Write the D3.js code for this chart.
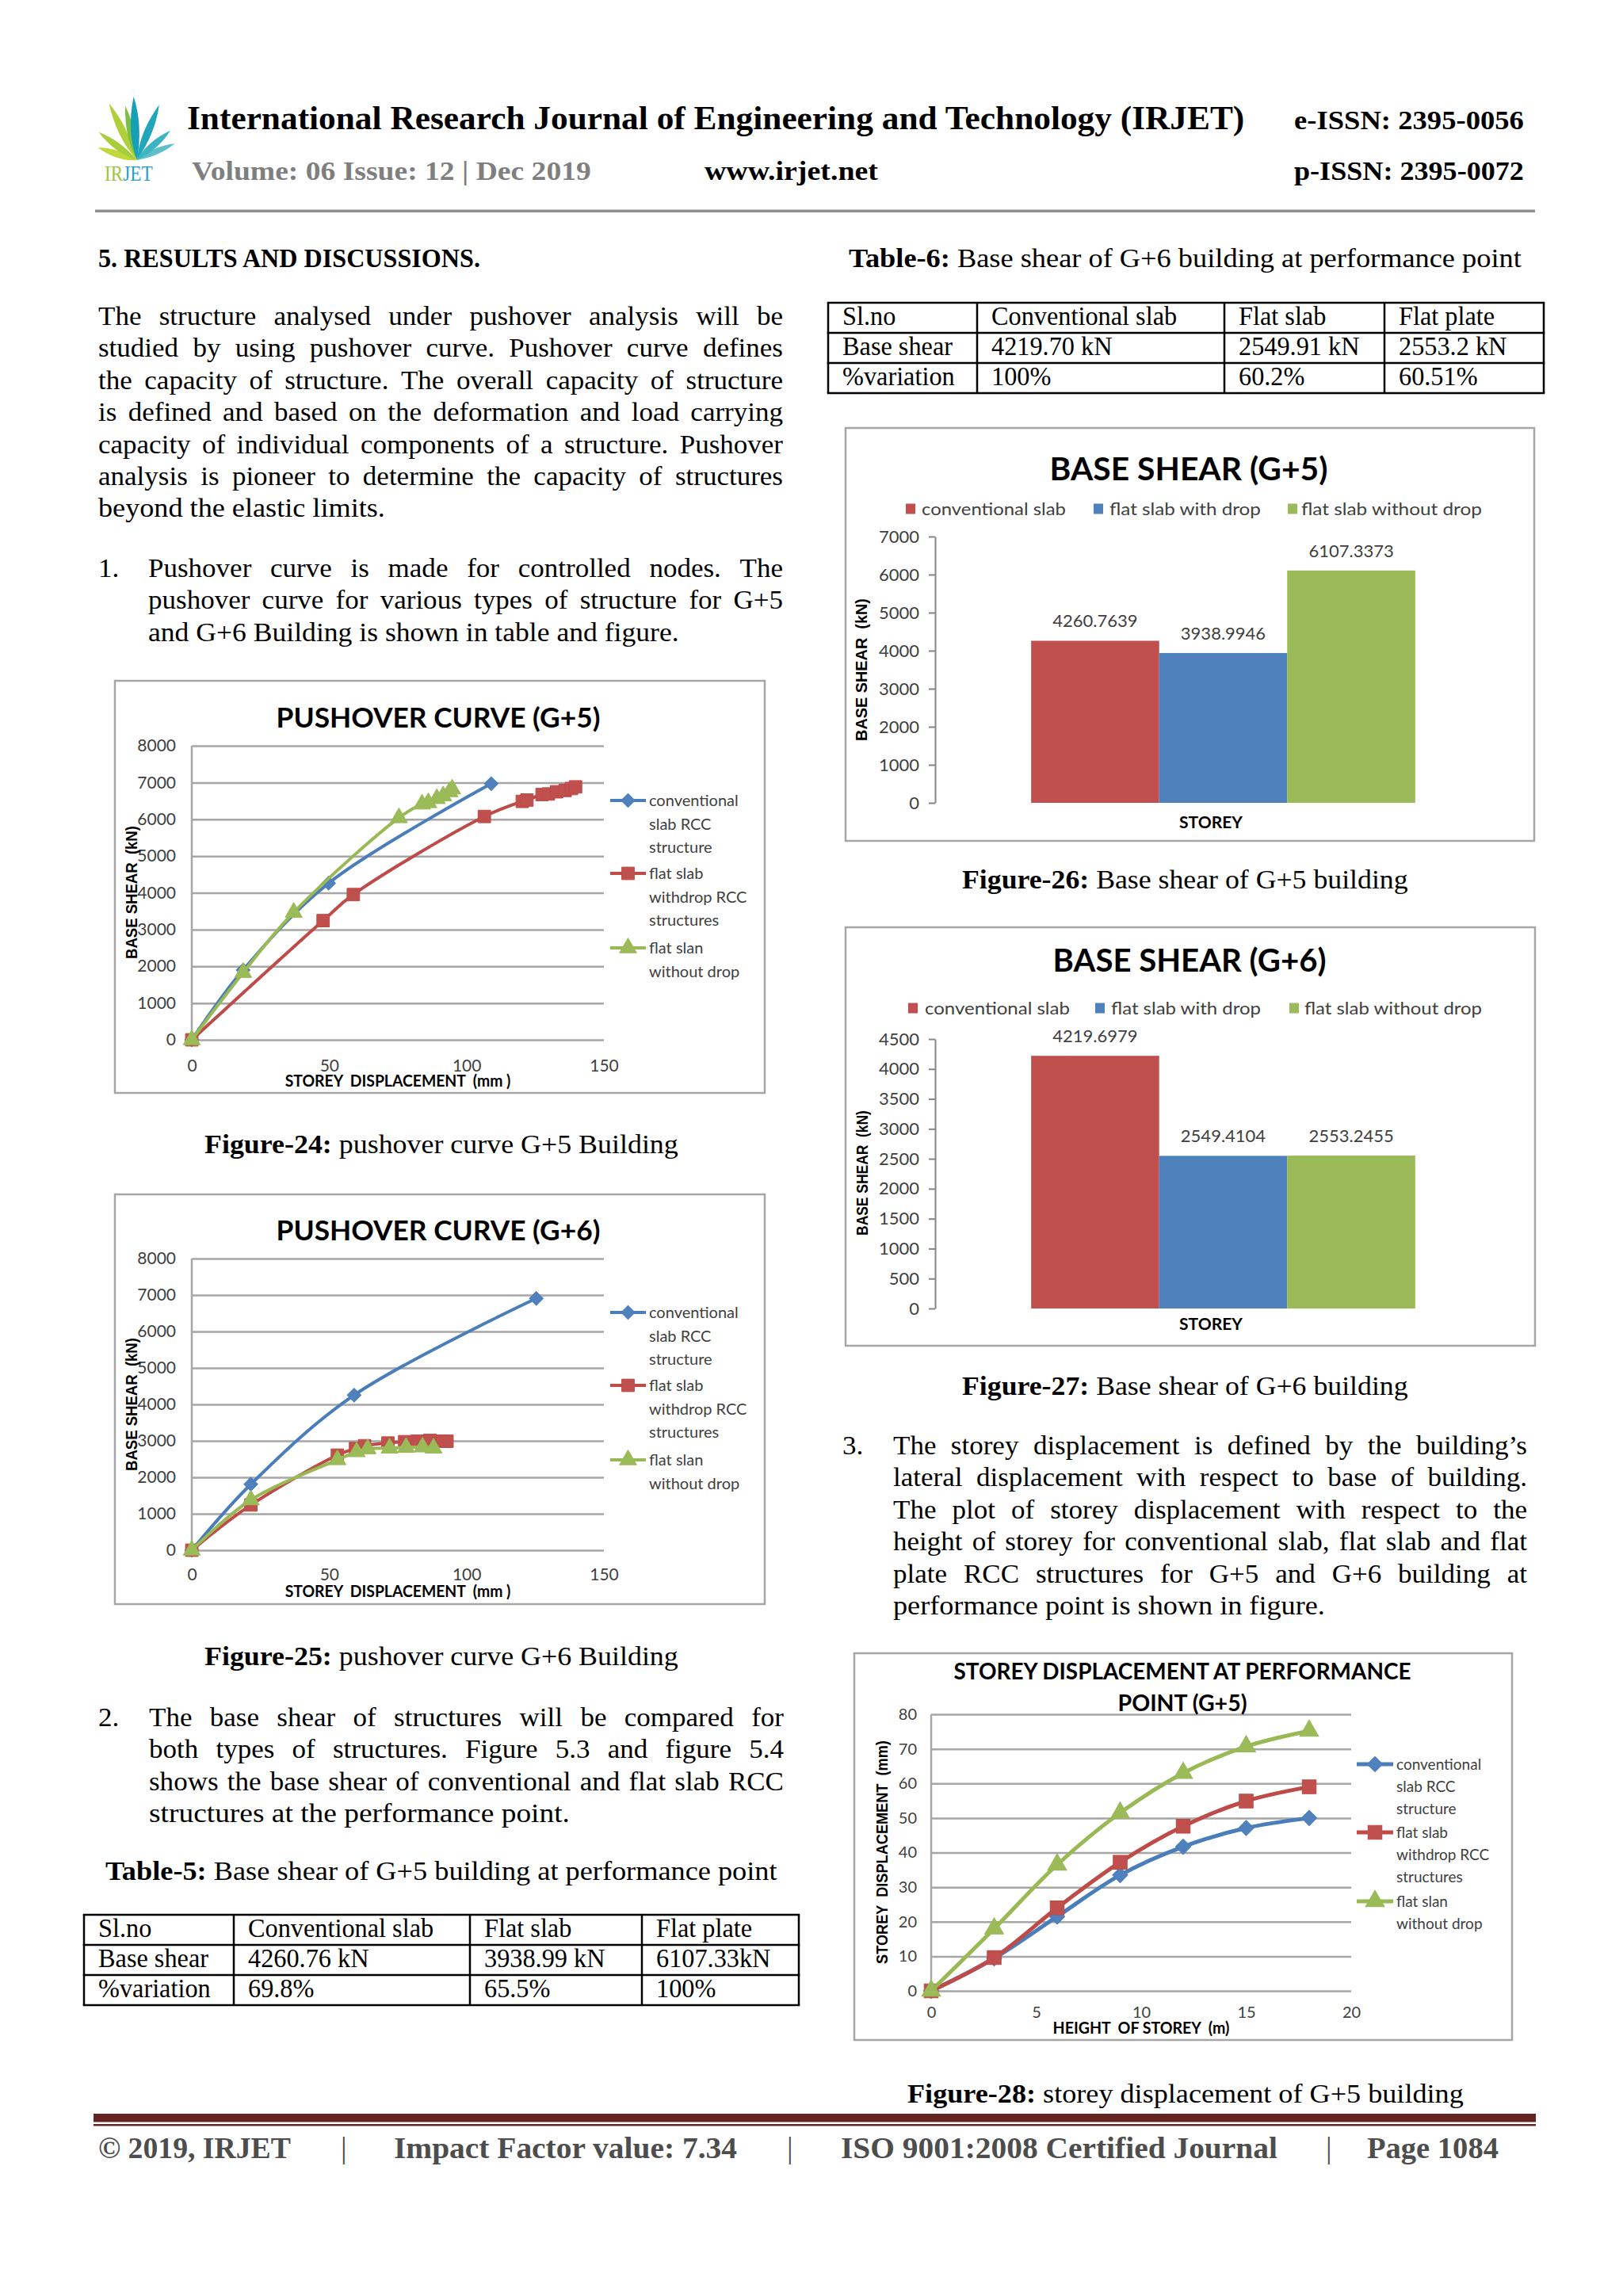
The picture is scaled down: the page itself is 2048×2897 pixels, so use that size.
<!DOCTYPE html>
<html>
<head>
<meta charset="utf-8">
<title>IRJET page 1084</title>
<script src="https://cdn.jsdelivr.net/npm/d3@7/dist/d3.min.js"></script>
<style>
  html, body { margin: 0; padding: 0; background: #fff; overflow: hidden; }
  svg { display: block; }
  text { white-space: pre; }
</style>
</head>
<body>
<script>
// ---- values ----
const seriesNames = ["conventional slab", "flat slab with drop", "flat slab without drop"];
const lineLegend = [["conventional", "slab RCC", "structure"], ["flat slab", "withdrop RCC", "structures"], ["flat slan", "without drop"]];

const pushoverTicksX = [0, 50, 100, 150];
const pushoverTicksY = [0, 1000, 2000, 3000, 4000, 5000, 6000, 7000, 8000];

// pushover G+5 (displacement mm, base shear kN)
const g5ConvDisp = [0, 18.7, 49.8, 109];
const g5ConvShear = [0, 1900, 4260, 6970];
const g5DropDisp = [0, 47.8, 58.8, 106.5, 120.3, 122.0, 127.5, 129.8, 132.8, 135.9, 138.2, 139.7];
const g5DropShear = [0, 3243, 3952, 6077, 6487, 6524, 6673, 6690, 6748, 6785, 6837, 6882];
const g5NoDropDisp = [0, 18.7, 37.1, 75.4, 83.8, 86.1, 89.2, 91.5, 93.8, 94.8];
const g5NoDropShear = [0, 1830, 3467, 6040, 6412, 6450, 6561, 6636, 6748, 6822];

// pushover G+6
const g6ConvDisp = [0, 21.5, 59.1, 125.4];
const g6ConvShear = [0, 1810, 4255, 6907];
const g6DropDisp = [0, 21.5, 53.0, 59.6, 62.9, 71.4, 77.5, 82.1, 86.7, 91.3, 92.9];
const g6DropShear = [0, 1241, 2608, 2792, 2866, 2940, 2977, 2992, 3014, 2992, 2990];
const g6NoDropDisp = [0, 21.5, 53.0, 60.0, 64.0, 72.0, 78.0, 84.0, 88.0];
const g6NoDropShear = [0, 1380, 2480, 2700, 2780, 2800, 2820, 2830, 2800];

// storey displacement G+5
const storeyTicksX = [0, 5, 10, 15, 20];
const storeyTicksY = [0, 10, 20, 30, 40, 50, 60, 70, 80];
const storeyHeight = [0, 3, 6, 9, 12, 15, 18];
const dispConv = [0, 9.4, 21.5, 33.5, 41.7, 47.1, 50.0];
const dispDrop = [0, 9.6, 24.0, 37.2, 47.6, 54.9, 59.0];
const dispNoDrop = [0, 18.0, 36.5, 51.5, 63.0, 70.7, 75.2];

// base shear bars
const baseShearG5 = [4260.7639, 3938.9946, 6107.3373];
const baseShearG6 = [4219.6979, 2549.4104, 2553.2455];
const barTicksG5 = [0, 1000, 2000, 3000, 4000, 5000, 6000, 7000];
const barTicksG6 = [0, 500, 1000, 1500, 2000, 2500, 3000, 3500, 4000, 4500];

// tables
const tableHead = ["Sl.no", "Conventional slab", "Flat slab", "Flat plate"];
const table5Shear = ["Base shear", "4260.76 kN", "3938.99 kN", "6107.33kN"];
const table5Var = ["%variation", "69.8%", "65.5%", "100%"];
const table6Shear = ["Base shear", "4219.70 kN", "2549.91 kN", "2553.2 kN"];
const table6Var = ["%variation", "100%", "60.2%", "60.51%"];

// body text
const para1 = ["The structure analysed under pushover analysis will be",
  "studied by using pushover curve. Pushover curve defines",
  "the capacity of structure. The overall capacity of structure",
  "is defined and based on the deformation and load carrying",
  "capacity of individual components of a structure. Pushover",
  "analysis is pioneer to determine the capacity of structures",
  "beyond the elastic limits."];
const item1 = ["Pushover curve is made for controlled nodes. The",
  "pushover curve for various types of structure for G+5",
  "and G+6 Building is shown in table and figure."];
const item2 = ["The base shear of structures will be compared for",
  "both types of structures. Figure 5.3 and figure 5.4",
  "shows the base shear of conventional and flat slab RCC",
  "structures at the performance point."];
const item3 = ["The storey displacement is defined by the building\u2019s",
  "lateral displacement with respect to base of building.",
  "The plot of storey displacement with respect to the",
  "height of storey for conventional slab, flat slab and flat",
  "plate RCC structures for G+5 and G+6 building at",
  "performance point is shown in figure."];

// ---- drawing ----
const W = 2048, H = 2897;
const SERIF = "'Liberation Serif','Times New Roman',serif";
const SANS = "Lato,'Open Sans',sans-serif";
const ARIAL = "'Liberation Sans',Arial,sans-serif";
const SX = 1.03;
const fmtInt = d3.format("d");

const lineColors = ["#4a7ebb", "#be4b48", "#98b954"];
const markerColors = ["#4f81bd", "#c0504d", "#9bbb59"];
const barColors = ["#c0504d", "#4f81bd", "#9bbb59"];
const markerPath = [d3.symbol(d3.symbolSquare, 150)(), d3.symbol(d3.symbolSquare, 250)(), d3.symbol(d3.symbolTriangle, 200)()];
const markerRot = ["rotate(45)", "", ""];

const svg = d3.select("body").append("svg")
  .attr("width", W).attr("height", H).attr("viewBox", `0 0 ${W} ${H}`);
svg.append("rect").attr("width", W).attr("height", H).attr("fill", "#fff");

function putText(parent, o) {
  const t = parent.append("text")
    .attr("font-family", o.family || SERIF)
    .attr("font-size", o.size || 34)
    .attr("font-weight", o.weight || "normal")
    .attr("fill", o.fill || "#000")
    .attr("text-anchor", o.anchor || "start");
  if (o.parts) {
    o.parts.forEach(p => t.append("tspan").attr("font-weight", p[1] ? "bold" : "normal").text(p[0]));
  } else {
    t.text(o.text);
  }
  const n = t.node().getComputedTextLength();
  const s = o.w ? o.w / n : (o.sx || 1);
  let tr = `translate(${o.x},${o.y})`;
  if (o.rotate) tr += ` rotate(${o.rotate})`;
  tr += ` scale(${s},1)`;
  t.attr("transform", tr);
  if (o.dy) t.attr("dy", o.dy);
  return t;
}

function justLine(parent, text, x, y, w) {
  const g = parent.append("g").attr("transform", `translate(${x},${y}) scale(${SX},1)`);
  const words = text.split(" ");
  const ts = words.map(wd => g.append("text").attr("font-family", SERIF).attr("font-size", 34).attr("fill", "#000").text(wd));
  const ws = ts.map(t => t.node().getComputedTextLength());
  const gap = (w / SX - d3.sum(ws)) / (words.length - 1);
  let cx = 0;
  ts.forEach((t, i) => { t.attr("x", cx); cx += ws[i] + gap; });
}

function paragraph(lines, x, y0, w, lastW) {
  lines.forEach((l, i) => {
    const y = y0 + i * 40.4;
    if (i < lines.length - 1) justLine(svg, l, x, y, w);
    else putText(svg, {text: l, x: x, y: y, w: lastW});
  });
}

// header
function drawLogo() {
  const g = svg.append("g").attr("transform", "translate(173,202)");
  // angle, length, half width, colour
  const leaves = [[-76, 52, 8, "#c2d83a"], [-57, 60, 8, "#a8cd3c"], [-29, 80, 9, "#b0d03a"], [-15, 70, 8, "#7dbf45"],
    [63, 52, 7, "#5cc0c8"], [45, 56, 8, "#3db4c3"], [19, 75, 9, "#22a6bc"], [-6, 80, 10, "#16a0b6"]];
  g.selectAll("path").data(leaves).join("path")
    .attr("d", d => `M0,0 Q${d[2] * 1.2},${-d[1] * 0.55} ${d[2] * 0.4},${-d[1]} Q${-d[2]},${-d[1] * 0.45} 0,0Z`)
    .attr("transform", d => `rotate(${d[0]})`)
    .attr("fill", d => d[3]);
  const t = svg.append("text").attr("font-family", SERIF).attr("font-size", 27)
    .attr("transform", "translate(132,228) scale(0.86,1)");
  t.append("tspan").attr("fill", "#9fc63c").text("IR");
  t.append("tspan").attr("fill", "#2b9cc2").text("JET");
}
drawLogo();
putText(svg, {text: "International Research Journal of Engineering and Technology (IRJET)", x: 236, y: 163, w: 1335, size: 43, weight: "bold"});
putText(svg, {text: "e-ISSN: 2395-0056", x: 1633, y: 163, w: 290, size: 34, weight: "bold"});
putText(svg, {text: "Volume: 06 Issue: 12 | Dec 2019", x: 242, y: 227, w: 504, size: 34, weight: "bold", fill: "#7f7f7f"});
putText(svg, {text: "www.irjet.net", x: 889, y: 227, w: 219, size: 34, weight: "bold"});
putText(svg, {text: "p-ISSN: 2395-0072", x: 1633, y: 227, w: 290, size: 34, weight: "bold"});
svg.append("rect").attr("x", 120).attr("y", 264.5).attr("width", 1817).attr("height", 3.5).attr("fill", "#8f8f8f");

// left column text
putText(svg, {text: "5. RESULTS AND DISCUSSIONS.", x: 124, y: 337, w: 482, size: 34, weight: "bold"});
paragraph(para1, 124, 410, 864, 362);
putText(svg, {text: "1.", x: 124, y: 728, sx: SX});
paragraph(item1, 187, 728, 801, 670);
putText(svg, {parts: [["Figure-24:", true], [" pushover curve G+5 Building", false]], x: 258, y: 1455, w: 598});
putText(svg, {parts: [["Figure-25:", true], [" pushover curve G+6 Building", false]], x: 258, y: 2101, w: 598});
putText(svg, {text: "2.", x: 124, y: 2178, sx: SX});
paragraph(item2, 188, 2178, 801, 531);
putText(svg, {parts: [["Table-5:", true], [" Base shear of G+5 building at performance point", false]], x: 133, y: 2372, w: 848});

// right column text
putText(svg, {parts: [["Table-6:", true], [" Base shear of G+6 building at performance point", false]], x: 1071, y: 337, w: 849});
putText(svg, {parts: [["Figure-26:", true], [" Base shear of G+5 building", false]], x: 1214, y: 1121, w: 563});
putText(svg, {parts: [["Figure-27:", true], [" Base shear of G+6 building", false]], x: 1214, y: 1760, w: 563});
putText(svg, {text: "3.", x: 1063, y: 1835, sx: SX});
paragraph(item3, 1127, 1835, 800, 545);
putText(svg, {parts: [["Figure-28:", true], [" storey displacement of G+5 building", false]], x: 1145, y: 2653, w: 702});

// tables
function drawTable(cols, rows, cells) {
  const g = svg.append("g");
  const x0 = cols[0], x1 = cols[cols.length - 1];
  g.selectAll("line.h").data(rows).join("line").attr("class", "h")
    .attr("x1", x0 - 1.25).attr("x2", x1 + 1.25).attr("y1", d => d).attr("y2", d => d)
    .attr("stroke", "#000").attr("stroke-width", 2.5);
  g.selectAll("line.v").data(cols).join("line").attr("class", "v")
    .attr("y1", rows[0]).attr("y2", rows[rows.length - 1]).attr("x1", d => d).attr("x2", d => d)
    .attr("stroke", "#000").attr("stroke-width", 2.5);
  cells.forEach((row, r) => row.forEach((t, k) => {
    putText(g, {text: t, x: cols[k] + 18, y: rows[r] + 28, size: 34, sx: 0.95});
  }));
}
drawTable([1045, 1233, 1545, 1747, 1948], [382, 420, 458, 496], [tableHead, table6Shear, table6Var]);
drawTable([106, 295, 593, 810, 1008], [2416, 2454, 2492, 2530], [tableHead, table5Shear, table5Var]);

// line charts
function drawLineChart(c) {
  const g = svg.append("g");
  g.append("rect").attr("x", c.box[0]).attr("y", c.box[1]).attr("width", c.box[2]).attr("height", c.box[3])
    .attr("fill", "#fff").attr("stroke", "#a6a6a6").attr("stroke-width", 2.5);
  const x = d3.scaleLinear().domain(c.xDomain).range(c.xRange);
  const y = d3.scaleLinear().domain(c.yDomain).range(c.yRange);
  const plotW = c.xRange[1] - c.xRange[0];

  const yAxis = g.append("g").attr("transform", `translate(${c.xRange[0]},0)`)
    .call(d3.axisLeft(y).tickValues(c.yTicks).tickFormat(fmtInt).tickSize(-plotW).tickSizeOuter(0).tickPadding(c.yPad));
  yAxis.select(".domain").remove();
  yAxis.selectAll(".tick line").attr("stroke", "#a6a6a6").attr("stroke-width", 2.5);
  yAxis.selectAll(".tick text").attr("font-family", SANS).attr("font-size", c.tickFont).attr("fill", "#404040");
  g.append("line").attr("x1", c.xRange[0]).attr("x2", c.xRange[0]).attr("y1", c.yRange[0]).attr("y2", c.yRange[1])
    .attr("stroke", "#a6a6a6").attr("stroke-width", 2.5);

  const xAxis = g.append("g").attr("transform", `translate(0,${c.yRange[0]})`)
    .call(d3.axisBottom(x).tickValues(c.xTicks).tickFormat(fmtInt).tickSize(0).tickPadding(c.xPad));
  xAxis.select(".domain").remove();
  xAxis.selectAll(".tick text").attr("font-family", SANS).attr("font-size", c.tickFont).attr("fill", "#404040");

  const line = d3.line().x(d => x(d[0])).y(d => y(d[1])).curve(d3.curveCatmullRom.alpha(0.5));
  c.series.forEach((s, i) => {
    const pts = d3.zip(s[0], s[1]);
    g.append("path").datum(pts).attr("d", line).attr("fill", "none")
      .attr("stroke", lineColors[i]).attr("stroke-width", c.lineW).attr("stroke-linejoin", "round");
    g.append("g").selectAll("path").data(pts).join("path")
      .attr("transform", d => `translate(${x(d[0])},${y(d[1])}) scale(${c.mk}) ${markerRot[i]}`)
      .attr("d", markerPath[i]).attr("fill", markerColors[i]).attr("stroke", lineColors[i]).attr("stroke-width", 1);
  });

  // legend
  const L = c.legend;
  lineLegend.forEach((lines, i) => {
    const ly = L.rows[i];
    g.append("line").attr("x1", L.x1).attr("x2", L.x2).attr("y1", ly).attr("y2", ly)
      .attr("stroke", lineColors[i]).attr("stroke-width", c.lineW);
    g.append("path").attr("transform", `translate(${(L.x1 + L.x2) / 2},${ly}) scale(${c.mk}) ${markerRot[i]}`)
      .attr("d", markerPath[i]).attr("fill", markerColors[i]).attr("stroke", lineColors[i]).attr("stroke-width", 1);
    lines.forEach((t, j) => putText(g, {text: t, x: L.tx, y: ly + 7 + j * L.lh, family: SANS, size: L.size, fill: "#404040"}));
  });

  c.titles.forEach(t => putText(g, {text: t[0], x: t[1], y: t[2], w: t[3], anchor: "middle", family: SANS, weight: "bold", size: t[4]}));
  putText(g, {text: c.xTitle[0], x: c.xTitle[1], y: c.xTitle[2], w: c.xTitle[3], anchor: "middle", family: SANS, weight: "bold", size: c.xTitle[4]});
  putText(g, {text: c.yTitle[0], x: c.yTitle[1], y: c.yTitle[2], w: c.yTitle[3], anchor: "middle", family: ARIAL, weight: "bold", size: c.yTitle[4], rotate: -90, dy: "0.35em"});
}

drawLineChart({
  box: [145, 859, 820, 520],
  xDomain: [0, 150], xRange: [242, 762], yDomain: [0, 8000], yRange: [1312, 941],
  xTicks: pushoverTicksX, yTicks: pushoverTicksY, yPad: 20, xPad: 25, tickFont: 21,
  lineW: 4, mk: 1,
  series: [[g5ConvDisp, g5ConvShear], [g5DropDisp, g5DropShear], [g5NoDropDisp, g5NoDropShear]],
  legend: {x1: 770, x2: 815, tx: 819, rows: [1010, 1102, 1196], lh: 29.5, size: 20},
  titles: [["PUSHOVER CURVE (G+5)", 553, 918, 409, 35]],
  xTitle: ["STOREY  DISPLACEMENT  (mm )", 502, 1371, 285, 21],
  yTitle: ["BASE SHEAR  (kN)", 166, 1126, 168, 20]
});

drawLineChart({
  box: [145, 1507, 820, 517],
  xDomain: [0, 150], xRange: [242, 762], yDomain: [0, 8000], yRange: [1956, 1588],
  xTicks: pushoverTicksX, yTicks: pushoverTicksY, yPad: 20, xPad: 23, tickFont: 21,
  lineW: 4, mk: 1,
  series: [[g6ConvDisp, g6ConvShear], [g6DropDisp, g6DropShear], [g6NoDropDisp, g6NoDropShear]],
  legend: {x1: 770, x2: 815, tx: 819, rows: [1656, 1748, 1842], lh: 29.5, size: 20},
  titles: [["PUSHOVER CURVE (G+6)", 553, 1565, 409, 35]],
  xTitle: ["STOREY  DISPLACEMENT  (mm )", 502, 2015, 285, 21],
  yTitle: ["BASE SHEAR  (kN)", 166, 1772, 168, 20]
});

drawLineChart({
  box: [1078, 2086, 830, 488],
  xDomain: [0, 20], xRange: [1175, 1705], yDomain: [0, 80], yRange: [2512, 2163],
  xTicks: storeyTicksX, yTicks: storeyTicksY, yPad: 18, xPad: 20, tickFont: 20,
  lineW: 5, mk: 1.1,
  series: [[storeyHeight, dispConv], [storeyHeight, dispDrop], [storeyHeight, dispNoDrop]],
  legend: {x1: 1712, x2: 1758, tx: 1762, rows: [2226, 2312, 2399], lh: 28, size: 19},
  titles: [["STOREY DISPLACEMENT AT PERFORMANCE", 1492, 2119, 577, 29], ["POINT (G+5)", 1492, 2159, 163, 29]],
  xTitle: ["HEIGHT  OF STOREY  (m)", 1440, 2566, 223, 20],
  yTitle: ["STOREY  DISPLACEMENT  (mm)", 1113, 2337, 282, 20]
});

// bar charts
function drawBarChart(c) {
  const g = svg.append("g");
  g.append("rect").attr("x", c.box[0]).attr("y", c.box[1]).attr("width", c.box[2]).attr("height", c.box[3])
    .attr("fill", "#fff").attr("stroke", "#a6a6a6").attr("stroke-width", 2.5);
  const x0 = d3.scaleBand().domain([c.category]).range(c.xRange).paddingInner(0.2).paddingOuter(0.2);
  const x1 = d3.scaleBand().domain(seriesNames).range([0, x0.bandwidth()]);
  const y = d3.scaleLinear().domain([0, c.yMax]).range(c.yRange);

  const yAxis = g.append("g").attr("transform", `translate(${c.xRange[0]},0)`)
    .call(d3.axisLeft(y).tickValues(c.yTicks).tickFormat(fmtInt).tickSize(8).tickSizeOuter(0).tickPadding(12));
  yAxis.select(".domain").attr("stroke", "#868686").attr("stroke-width", 2);
  yAxis.selectAll(".tick line").attr("stroke", "#868686").attr("stroke-width", 2);
  yAxis.selectAll(".tick text").attr("font-family", SANS).attr("font-size", 22).attr("fill", "#404040");

  const bars = g.append("g").attr("transform", `translate(${x0(c.category)},0)`);
  bars.selectAll("rect").data(c.values).join("rect")
    .attr("x", (d, i) => x1(seriesNames[i])).attr("width", x1.bandwidth())
    .attr("y", d => y(d)).attr("height", d => y(0) - y(d))
    .attr("fill", (d, i) => barColors[i]);
  bars.selectAll("text").data(c.values).join("text")
    .attr("x", (d, i) => x1(seriesNames[i]) + x1.bandwidth() / 2).attr("y", d => y(d) - 17)
    .attr("text-anchor", "middle").attr("font-family", SANS).attr("font-size", 22).attr("fill", "#404040")
    .text(d => d3.format(".4f")(d));

  seriesNames.forEach((n, i) => {
    g.append("rect").attr("x", c.legend.sq[i]).attr("y", c.legend.y - 6.5).attr("width", 12).attr("height", 13).attr("fill", barColors[i]);
    putText(g, {text: n, x: c.legend.tx[i], y: c.legend.y + 7.5, w: c.legend.tw[i], family: SANS, size: 22, fill: "#404040"});
  });

  putText(g, {text: c.title[0], x: c.title[1], y: c.title[2], w: c.title[3], anchor: "middle", family: SANS, weight: "bold", size: 40});
  putText(g, {text: "STOREY", x: 1528, y: c.xTitleY, w: 80, anchor: "middle", family: SANS, weight: "bold", size: 21});
  putText(g, {text: "BASE SHEAR  (kN)", x: c.yTitle[0], y: c.yTitle[1], w: c.yTitle[2], anchor: "middle", family: ARIAL, weight: "bold", size: 20, rotate: -90, dy: "0.35em"});
}

drawBarChart({
  box: [1067, 540, 869, 521], category: "G+5",
  xRange: [1180, 1907], yMax: 7000, yRange: [1013, 677], yTicks: barTicksG5, values: baseShearG5,
  legend: {y: 642, sq: [1143, 1380, 1625], tx: [1163, 1400, 1642], tw: [182, 191, 228]},
  title: ["BASE SHEAR (G+5)", 1500, 606, 351],
  xTitleY: 1045, yTitle: [1087, 845, 180]
});

drawBarChart({
  box: [1067, 1170, 870, 528], category: "G+6",
  xRange: [1180, 1907], yMax: 4500, yRange: [1651, 1311], yTicks: barTicksG6, values: baseShearG6,
  legend: {y: 1272, sq: [1146, 1382, 1627], tx: [1167, 1402, 1646], tw: [183, 189, 224]},
  title: ["BASE SHEAR (G+6)", 1501, 1226, 345],
  xTitleY: 1678, yTitle: [1088, 1480, 158]
});

// footer
svg.append("rect").attr("x", 118).attr("y", 2667).attr("width", 1820).attr("height", 10.5).attr("fill", "#632423");
svg.append("rect").attr("x", 118).attr("y", 2680).attr("width", 1820).attr("height", 2.5).attr("fill", "#632423");
const footer = [["\u00a9 2019, IRJET", 124, 243], ["|", 430, 0], ["Impact Factor value: 7.34", 497, 433], ["|", 993, 0],
  ["ISO 9001:2008 Certified Journal", 1061, 551], ["|", 1673, 0], ["Page 1084", 1725, 166]];
footer.forEach(f => putText(svg, {text: f[0], x: f[1], y: 2723, w: f[2] || null, size: 38, weight: f[2] ? "bold" : "normal", fill: "#4d4d4d"}));
</script>
</body>
</html>
